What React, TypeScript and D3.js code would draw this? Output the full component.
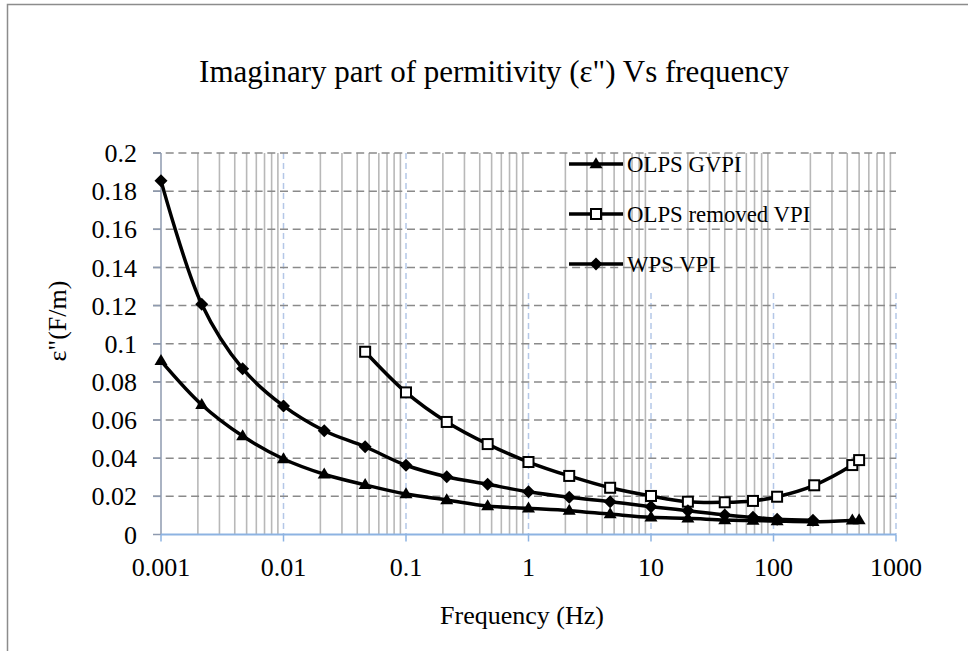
import React from "react";
import * as d3 from "d3";

const title = "Imaginary part of permitivity (ε\") Vs frequency";
const xTitle = "Frequency (Hz)";
const yTitle = "ε\"(F/m)";
const xTicks = [0.001, 0.01, 0.1, 1, 10, 100, 1000];
const xTickLabels = ["0.001", "0.01", "0.1", "1", "10", "100", "1000"];
const yTicks = [0, 0.02, 0.04, 0.06, 0.08, 0.1, 0.12, 0.14, 0.16, 0.18, 0.2];
const yTickLabels = ["0", "0.02", "0.04", "0.06", "0.08", "0.1", "0.12", "0.14", "0.16", "0.18", "0.2"];

const seriesNames = ["OLPS GVPI", "OLPS removed VPI", "WPS VPI"];

const gvpiFreq = [0.001, 0.00215, 0.00464, 0.01, 0.0215, 0.0464, 0.1, 0.215, 0.464, 1, 2.15, 4.64, 10, 20, 40, 68, 107, 210, 440, 500];
const gvpiVal = [0.091, 0.068, 0.0516, 0.0396, 0.0316, 0.026, 0.0212, 0.0181, 0.0149, 0.0137, 0.0125, 0.0107, 0.009, 0.0085, 0.0076, 0.0073, 0.007, 0.0067, 0.0074, 0.0076];

const removedFreq = [0.0464, 0.1, 0.215, 0.464, 1, 2.15, 4.64, 10, 20, 40, 68, 107, 215, 440, 500];
const removedVal = [0.0958, 0.0745, 0.059, 0.0474, 0.038, 0.0307, 0.0245, 0.0202, 0.0172, 0.0169, 0.0176, 0.0198, 0.0258, 0.0364, 0.039];

const wpsFreq = [0.001, 0.00215, 0.00464, 0.01, 0.0215, 0.0464, 0.1, 0.215, 0.464, 1, 2.15, 4.64, 10, 20, 40, 68, 107, 210];
const wpsVal = [0.1855, 0.1207, 0.0869, 0.0674, 0.0544, 0.046, 0.0363, 0.0303, 0.0263, 0.0224, 0.0195, 0.0172, 0.0146, 0.0125, 0.0102, 0.009, 0.008, 0.0075];

const W = 968, H = 651;
const X0 = 161, X1 = 896, Y0 = 534.5, Y1 = 153;
const FONT = "'Liberation Serif', 'Times New Roman', serif";

function Marker({ type, x, y }: { type: string; x: number; y: number }) {
  if (type === "triangle") {
    const s = 13;
    const h = 11;
    return <path d={`M${x},${y - h * 0.62}L${x + s / 2},${y + h * 0.38}L${x - s / 2},${y + h * 0.38}Z`} fill="#000" />;
  }
  if (type === "square") {
    const s = 10;
    return <rect x={x - s / 2} y={y - s / 2} width={s} height={s} fill="#fff" stroke="#000" strokeWidth={2} />;
  }
  const r = 6.5;
  return <path d={`M${x},${y - r}L${x + r},${y}L${x},${y + r}L${x - r},${y}Z`} fill="#000" />;
}

export default function App() {
  const x = d3.scaleLog().domain([0.001, 1000]).range([X0, X1]);
  const y = d3.scaleLinear().domain([0, 0.2]).range([Y0, Y1]);
  const line = d3
    .line<[number, number]>()
    .x((d) => x(d[0]))
    .y((d) => y(d[1]))
    .curve(d3.curveCatmullRom.alpha(0.5));

  const minors: number[] = [];
  for (let e = -3; e < 3; e++) {
    for (let k = 2; k <= 9; k++) minors.push(k * Math.pow(10, e));
  }

  const series = [
    { name: seriesNames[0], f: gvpiFreq, v: gvpiVal, m: "triangle" },
    { name: seriesNames[1], f: removedFreq, v: removedVal, m: "square" },
    { name: seriesNames[2], f: wpsFreq, v: wpsVal, m: "diamond" },
  ];

  return (
    <svg width={W} height={H} style={{ position: "absolute", left: 0, top: 0 }}>
      <rect x={0} y={0} width={W} height={H} fill="#fff" />
      <rect x={7.5} y={4.5} width={1100} height={1000} fill="none" stroke="#8c8c8c" strokeWidth={1.5} />
      <text x={494} y={82} textAnchor="middle" fontFamily={FONT} fontSize={31} fill="#000">{title}</text>

      {/* minor vertical gridlines */}
      {minors.map((m, i) => (
        <line key={"mn" + i} x1={x(m)} x2={x(m)} y1={Y1} y2={Y0} stroke="#b8b8b8" strokeWidth={1.6} />
      ))}
      {/* major vertical dashed gridlines */}
      {xTicks.slice(1).map((t, i) => (
        <line key={"mj" + i} x1={x(t)} x2={x(t)} y1={t >= 1 ? 293 : Y1} y2={Y0} stroke="#b4c7e7" strokeWidth={1.5} strokeDasharray="6,4" />
      ))}
      {/* horizontal dashed gridlines */}
      {yTicks.slice(1).map((t, i) => (
        <line key={"hg" + i} x1={153} x2={X1} y1={y(t)} y2={y(t)} stroke="#8a8a8a" strokeWidth={1.5} strokeDasharray="8,4.7" />
      ))}
      {/* y axis */}
      <line x1={X0} x2={X0} y1={Y1} y2={Y0} stroke="#8e9aaf" strokeWidth={1.5} />
      {yTicks.map((t, i) => (
        <line key={"yt" + i} x1={153} x2={X0} y1={y(t)} y2={y(t)} stroke="#8e9aaf" strokeWidth={1.5} />
      ))}
      {yTicks.map((t, i) => (
        <text key={"yl" + i} x={137} y={y(t)} dy="0.35em" textAnchor="end" fontFamily={FONT} fontSize={26} fill="#000">{yTickLabels[i]}</text>
      ))}
      {/* x axis */}
      <line x1={X0} x2={X1} y1={Y0} y2={Y0} stroke="#8db3e2" strokeWidth={2} />
      {xTicks.map((t, i) => (
        <line key={"xt" + i} x1={x(t)} x2={x(t)} y1={Y0} y2={Y0 + 7} stroke="#8db3e2" strokeWidth={1.5} />
      ))}
      {xTicks.map((t, i) => (
        <text key={"xl" + i} x={x(t)} y={576} textAnchor="middle" fontFamily={FONT} fontSize={26} fill="#000">{xTickLabels[i]}</text>
      ))}
      <text x={522} y={624} textAnchor="middle" fontFamily={FONT} fontSize={26} fill="#000">{xTitle}</text>
      <text transform={`translate(66,321) rotate(-90)`} textAnchor="middle" fontFamily={FONT} fontSize={26} fill="#000">{yTitle}</text>

      {/* series */}
      {series.map((s, si) => {
        const pts: [number, number][] = s.f.map((f, i) => [f, s.v[i]]);
        return (
          <g key={"s" + si}>
            <path d={line(pts) || ""} fill="none" stroke="#000" strokeWidth={3.5} />
            {pts.map((p, i) => (
              <Marker key={i} type={s.m} x={x(p[0])} y={y(p[1])} />
            ))}
          </g>
        );
      })}

      {/* legend */}
      {series.map((s, i) => {
        const ly = 164 + i * 50;
        return (
          <g key={"lg" + i}>
            <line x1={569} x2={623} y1={ly} y2={ly} stroke="#000" strokeWidth={3.5} />
            <Marker type={s.m} x={596} y={ly} />
            <text x={627} y={ly} dy="0.35em" fontFamily={FONT} fontSize={22.8} fill="#000">{s.name}</text>
          </g>
        );
      })}
    </svg>
  );
}
